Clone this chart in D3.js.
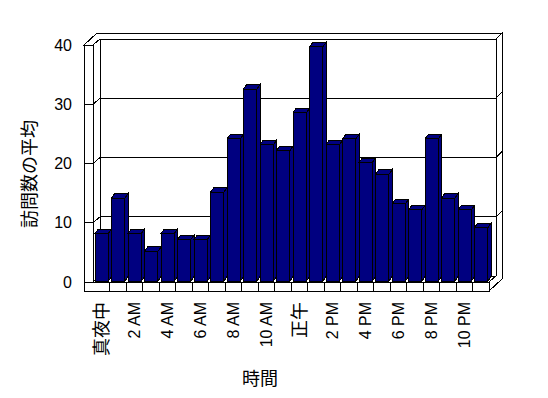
<!DOCTYPE html>
<html>
<head>
<meta charset="utf-8">
<script src="https://cdnjs.cloudflare.com/ajax/libs/d3/7.8.5/d3.min.js"></script>
<style>
  body { margin: 0; background: #fff; }
  svg { display: block; }
  text { font-family: 'Liberation Sans', Arial, 'Noto Sans CJK JP', sans-serif; fill: #000; }
</style>
</head>
<body>
<script>
// categories: one per hour of the day
const hours = ['真夜中', '1 AM', '2 AM', '3 AM', '4 AM', '5 AM', '6 AM', '7 AM', '8 AM', '9 AM', '10 AM', '11 AM',
               '正午', '1 PM', '2 PM', '3 PM', '4 PM', '5 PM', '6 PM', '7 PM', '8 PM', '9 PM', '10 PM', '11 PM'];
// average visits per hour
const visits = [8, 14, 8, 5, 8, 7, 7, 15, 24, 32.4, 23, 22, 28.4, 39.5, 23, 24, 20, 18, 13, 12, 24, 14, 12, 9];
const yTicks = [0, 10, 20, 30, 40];
const xTickLabels = hours.filter((d, i) => i % 2 === 0);
const yTitle = '訪問数の平均';
const xTitle = '時間';

const width = 548, height = 398;
const xL = 84, xI = 93, xR = 489;      // left wall outer/inner, floor right (front plane)
const yT = 45, yF = 282, yB = 291;      // top, floor top, floor bottom (front plane)
const dx = 7, dy = -6;                  // front plane -> back wall face
const tx = 6, ty = -6;                  // back wall thickness
const barOff = 2, barDy = -1, barW = 13.3, bdx = 3.3, bdy = -4.5;

const svg = d3.select('body').append('svg')
    .attr('width', width).attr('height', height);

const x = d3.scaleBand().domain(hours).range([xI, xR]).padding(0);
const y = d3.scaleLinear().domain([0, 40]).range([yF, yT]);

const frame = svg.append('g')
    .attr('fill', '#fff').attr('stroke', '#000').attr('stroke-width', 1)
    .attr('shape-rendering', 'crispEdges');

const poly = (pts) => 'M' + pts.map(p => p.join(',')).join('L') + 'Z';

// back wall face
frame.append('rect')
    .attr('x', xI + dx).attr('y', yT + dy)
    .attr('width', xR - xI).attr('height', yF - yT);
// left wall inner face
frame.append('path').attr('d', poly([[xI, yT], [xI + dx, yT + dy], [xI + dx, yF + dy], [xI, yF]]));
// floor top
frame.append('path').attr('d', poly([[xI, yF], [xR, yF], [xR + dx, yF + dy], [xI + dx, yF + dy]]));
// top edge of walls
frame.append('path').attr('d', poly([[xL, yT], [xI, yT], [xI + dx, yT + dy], [xR + dx, yT + dy],
    [xR + dx + tx, yT + dy + ty], [xL + dx + tx, yT + dy + ty]]));
// right side of floor and back wall
frame.append('path').attr('d', poly([[xR, yF], [xR, yB], [xR + dx + tx, yB + dy + ty],
    [xR + dx + tx, yT + dy + ty], [xR + dx, yT + dy], [xR + dx, yF + dy]]));
// left wall front
frame.append('rect').attr('x', xL).attr('y', yT).attr('width', xI - xL).attr('height', yF - yT);
// floor front
frame.append('rect').attr('x', xL).attr('y', yF).attr('width', xR - xL).attr('height', yB - yF);
frame.selectAll('.divider')
    .data(hours.slice(1))
    .enter().append('line')
    .attr('class', 'divider')
    .attr('x1', d => x(d)).attr('x2', d => x(d))
    .attr('y1', yF).attr('y2', yB);

// gridlines
frame.selectAll('.grid')
    .data(yTicks.filter(d => d > 0 && d < 40))
    .enter().append('path')
    .attr('class', 'grid')
    .attr('fill', 'none')
    .attr('d', d => {
        const yy = y(d);
        return 'M' + [[xL, yy], [xI, yy], [xI + dx, yy + dy], [xR + dx, yy + dy],
            [xR + dx + tx, yy + dy + ty]].map(p => p.join(',')).join('L');
    });

// bars
const bars = svg.append('g')
    .attr('fill', '#000080').attr('stroke', '#000').attr('stroke-width', 1)
    .attr('shape-rendering', 'crispEdges');

hours.forEach((h, i) => {
    const x0 = x(h) + barOff, x1 = x0 + barW;
    const yTop = y(visits[i]) + barDy, yBase = y(0) + barDy;
    const g = bars.append('g');
    g.append('path').attr('d', poly([[x1, yBase], [x1 + bdx, yBase + bdy], [x1 + bdx, yTop + bdy], [x1, yTop]]));
    g.append('path').attr('d', poly([[x0, yTop], [x0 + bdx, yTop + bdy], [x1 + bdx, yTop + bdy], [x1, yTop]]));
    g.append('rect').attr('x', x0).attr('y', yTop).attr('width', barW).attr('height', yBase - yTop);
});

// y axis labels
const yAxis = svg.append('g')
    .attr('transform', `translate(${xL},0)`)
    .call(d3.axisLeft(y).tickValues(yTicks).tickSize(0).tickPadding(12));
yAxis.select('.domain').remove();
yAxis.selectAll('text')
    .style('font-family', "'Liberation Sans', Arial, sans-serif")
    .style('font-size', '16px');

// x axis labels
const xAxis = svg.append('g')
    .attr('transform', `translate(0,${yB})`)
    .call(d3.axisBottom(x).tickValues(xTickLabels).tickSize(0));
xAxis.select('.domain').remove();
xAxis.selectAll('text')
    .attr('transform', 'rotate(-90)')
    .attr('x', -11).attr('y', 0).attr('dy', '0.36em')
    .attr('text-anchor', 'end')
    .style('font-family', "'Liberation Sans', Arial, 'Noto Sans CJK JP', sans-serif")
    .style('font-size', d => /AM|PM/.test(d) ? '16px' : '18px');

// titles
svg.append('text')
    .attr('transform', 'translate(30,174) rotate(-90)')
    .attr('text-anchor', 'middle').attr('dy', '0.35em')
    .style('font-family', "'Noto Sans CJK JP', sans-serif")
    .style('font-size', '18px')
    .text(yTitle);

svg.append('text')
    .attr('x', 260).attr('y', 379)
    .attr('text-anchor', 'middle').attr('dy', '0.35em')
    .style('font-family', "'Noto Sans CJK JP', sans-serif")
    .style('font-size', '18px')
    .text(xTitle);
</script>
</body>
</html>
